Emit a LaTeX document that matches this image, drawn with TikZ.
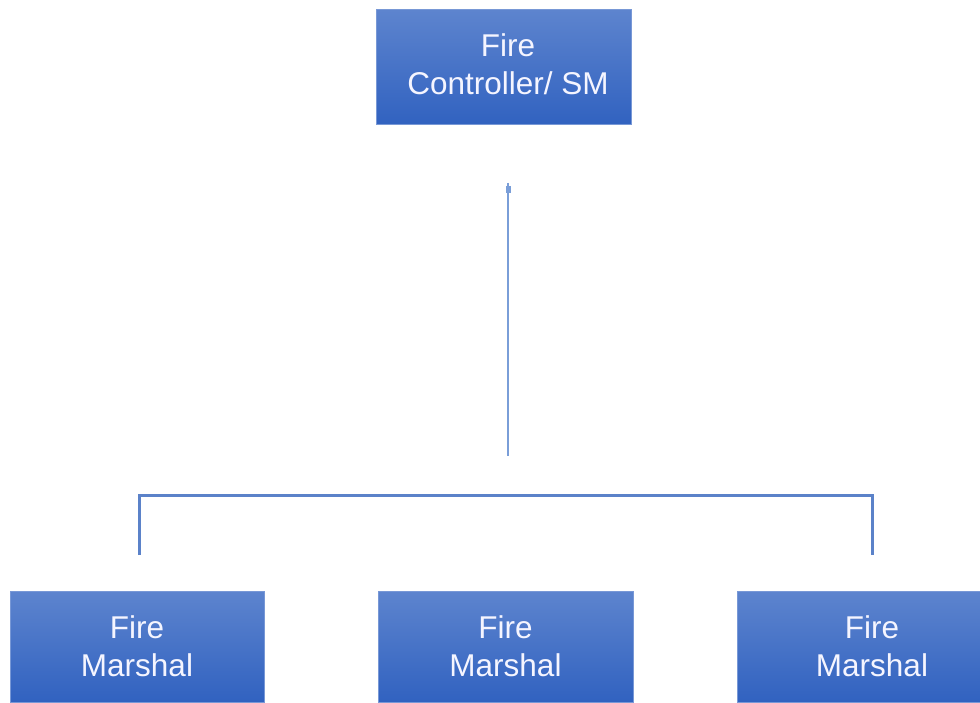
\documentclass[tikz,border=0pt]{standalone}
\usepackage{fontspec}
\setmainfont{Liberation Sans}
\definecolor{boxtop}{HTML}{5D84CE}
\definecolor{boxbot}{HTML}{3162C0}
\definecolor{boxedge}{HTML}{7898D6}
\definecolor{linec}{HTML}{5B82C9}
\definecolor{linethin}{HTML}{7A9ED8}
\begin{document}
\begin{tikzpicture}[x=1pt,y=-1pt,
  fbox/.style={draw=boxedge,line width=1pt,top color=boxtop,bottom color=boxbot,
    text=white!96!blue,align=center,inner sep=0pt,
    font=\fontsize{31.5}{38}\selectfont},
  bracket/.style={draw=linec,line width=3pt},
  thin/.style={draw=linethin,line width=1.3pt}]
\useasboundingbox (0,0) rectangle (980,703);
\node[fbox,minimum width=255pt,minimum height=115pt] (fc) at (503.5,67.5) {\hspace*{9pt}Fire\\\hspace*{9pt}Controller/ SM\\[-31pt]\mbox{}};
\node[fbox,minimum width=254pt,minimum height=111pt] (m1) at (137,646.5) {Fire\\Marshal};
\node[fbox,minimum width=255pt,minimum height=111pt] (m2) at (505.5,646.5) {Fire\\Marshal};
\node[fbox,minimum width=270pt,minimum height=111pt] (m3) at (872,646.5) {Fire\\Marshal};
\coordinate (vt) at (508,183);
\coordinate (vb) at (508,456);
\draw[thin] (vt) -- (vb);
\fill[linethin] (505.5,186) rectangle (510.5,193);
\coordinate (bl) at (139,555);
\coordinate (br) at (872,555);
\draw[bracket] (bl) -- (139,495) -- (872,495) -- (br);
\end{tikzpicture}
\end{document}
